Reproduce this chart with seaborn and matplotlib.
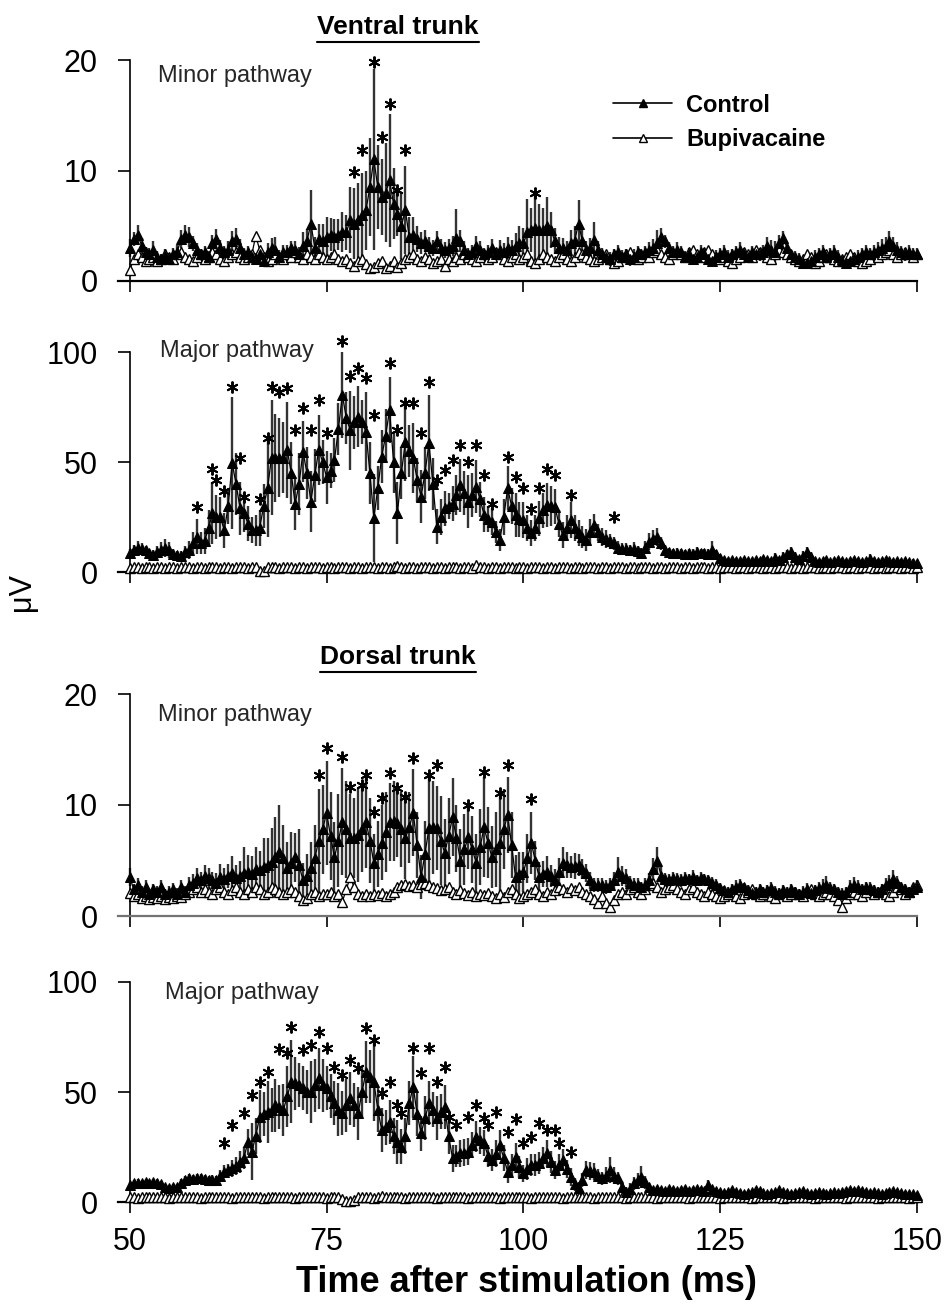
import matplotlib
matplotlib.use("Agg")
import matplotlib.pyplot as plt
from matplotlib.lines import Line2D
import numpy as np
import seaborn as sns

# sampling grid: one point every 0.5 ms from 50 to 150 ms
time = np.arange(50, 150.25, 0.5)

# ---- Ventral trunk, minor pathway (uV) ----
vmin_ctrl = [
    3.0, 3.8, 4.2, 3.2, 2.6, 2.4, 2.8, 2.2, 2.0, 2.3,   # 50
    2.0, 2.4, 2.6, 3.8, 4.2, 4.0, 3.4, 2.8, 2.4, 2.6,   # 55
    2.2, 3.4, 3.8, 3.0, 2.6, 2.8, 3.6, 3.8, 3.0, 2.4,   # 60
    2.6, 2.2, 2.0, 2.4, 1.8, 2.6, 3.0, 2.8, 2.2, 2.6,   # 65
    2.6, 3.0, 2.8, 2.4, 3.2, 3.6, 5.2, 3.0, 3.8, 3.6,   # 70
    4.0, 4.2, 4.0, 4.2, 4.4, 4.4, 5.5, 5.2, 5.5, 6.0,   # 75
    6.4, 8.5, 11.0, 8.5, 7.6, 8.0, 9.1, 7.0, 6.1, 5.0,  # 80
    6.4, 4.0, 4.2, 3.8, 3.4, 3.6, 3.2, 3.0, 3.6, 3.0,   # 85
    2.8, 3.0, 3.2, 3.9, 3.6, 2.8, 2.4, 2.6, 3.2, 2.8,   # 90
    2.4, 2.6, 3.0, 2.4, 2.8, 2.6, 3.0, 2.8, 3.2, 3.4,   # 95
    3.4, 4.4, 4.6, 4.8, 4.6, 4.6, 5.0, 4.6, 3.6, 3.0,   # 100
    3.0, 2.8, 3.4, 3.6, 5.2, 3.6, 2.8, 3.0, 3.7, 2.8,   # 105
    2.4, 2.2, 2.0, 2.4, 2.6, 2.2, 2.4, 2.0, 2.2, 2.6,   # 110
    2.4, 2.6, 2.8, 3.0, 3.4, 4.0, 3.6, 3.0, 2.6, 2.8,   # 115
    2.6, 2.2, 2.4, 2.0, 2.2, 2.6, 2.4, 2.0, 1.8, 2.2,   # 120
    2.4, 2.6, 2.2, 2.4, 2.6, 2.8, 2.4, 2.2, 2.6, 2.4,   # 125
    2.4, 2.6, 3.2, 2.8, 2.6, 3.4, 3.9, 3.0, 2.4, 2.2,   # 130
    2.0, 1.6, 1.6, 1.8, 2.2, 2.4, 2.6, 2.2, 2.4, 2.6,   # 135
    2.2, 1.8, 1.6, 1.8, 2.0, 2.2, 2.4, 2.6, 2.4, 2.6,   # 140
    2.8, 3.0, 3.2, 3.6, 3.2, 2.8, 2.6, 2.4, 2.6, 2.4,   # 145
    2.4,
]
vmin_err = [
    0.8, 0.6, 0.9, 0.7, 0.5, 0.6, 0.8, 0.5, 0.4, 0.6,
    0.5, 0.6, 0.7, 0.8, 0.9, 0.9, 0.7, 0.6, 0.5, 0.6,
    0.5, 0.8, 0.9, 0.7, 0.6, 0.8, 0.9, 1.0, 0.8, 0.6,
    0.6, 0.5, 0.5, 0.6, 0.5, 0.8, 0.9, 1.2, 0.6, 0.7,
    0.7, 0.6, 0.8, 0.7, 1.2, 1.1, 3.0, 1.0, 1.4, 1.6,
    1.8, 1.5, 1.6, 1.4, 1.8, 1.6, 3.0, 3.2, 3.4, 3.8,
    3.6, 4.4, 8.2, 3.8, 3.4, 4.5, 6.0, 3.2, 2.0, 3.0,
    4.0, 1.8, 1.6, 1.2, 1.0, 1.0, 0.8, 0.7, 0.9, 0.8,
    0.7, 0.8, 0.9, 2.6, 1.0, 0.8, 0.6, 0.7, 0.9, 0.8,
    0.6, 0.7, 0.8, 0.6, 0.9, 0.8, 1.0, 0.9, 1.1, 1.6,
    1.4, 3.0, 2.0, 3.2, 2.4, 2.0, 2.6, 1.6, 1.2, 1.0,
    0.9, 0.8, 1.2, 1.4, 2.1, 1.2, 0.8, 0.9, 1.6, 0.8,
    0.6, 0.5, 0.6, 0.5, 0.7, 0.6, 0.5, 0.6, 0.7, 0.6,
    0.5, 0.6, 0.7, 0.8, 1.2, 0.8, 0.6, 0.5, 0.6, 0.7,
    0.6, 0.5, 0.6, 0.5, 0.6, 0.7, 0.6, 0.5, 0.5, 0.6,
    0.6, 0.7, 0.6, 0.5, 0.6, 0.7, 0.6, 0.5, 0.6, 0.5,
    0.6, 0.7, 0.8, 0.9, 1.0, 0.8, 0.6, 0.5, 0.4, 0.5,
    0.5, 0.4, 0.5, 0.5, 0.6, 0.6, 0.7, 0.6, 0.6, 0.7,
    0.6, 0.5, 0.4, 0.5, 0.5, 0.6, 0.6, 0.7, 0.6, 0.7,
    0.7, 0.8, 0.8, 0.9, 0.8, 0.7, 0.6, 0.6, 0.7, 0.6,
    0.6,
]
vmin_bup = [
    1.0, 2.0, 2.4, 2.2, 1.8, 2.0, 2.2, 1.8, 2.0, 2.4,
    2.2, 2.0, 2.4, 2.6, 2.2, 2.0, 1.8, 2.2, 2.4, 2.0,
    2.2, 2.6, 2.4, 2.0, 1.8, 2.2, 2.4, 2.6, 2.2, 2.0,
    2.2, 2.4, 4.1, 2.8, 2.2, 1.8, 2.0, 2.4, 2.2, 2.0,
    2.4, 2.2, 2.6, 2.2, 2.0, 2.4, 2.2, 2.0, 2.4, 2.2,
    2.0, 2.2, 2.4, 2.0, 1.8, 2.0, 1.6, 1.4, 1.8, 2.0,
    1.5, 1.2, 1.3, 1.6, 1.8, 1.2, 1.4, 1.8, 1.3, 1.6,
    2.0, 2.2, 2.4, 2.0, 1.8, 2.2, 2.0, 1.6, 1.8, 2.0,
    1.4, 2.0, 1.8, 2.2, 2.0, 2.4, 2.2, 2.0, 1.8, 2.2,
    2.4, 2.0, 2.2, 2.6, 2.4, 2.0, 1.8, 2.2, 2.4, 2.0,
    2.2, 2.4, 1.8, 1.6, 2.0, 2.4, 2.2, 2.0, 1.8, 2.2,
    2.4, 2.0, 1.8, 2.2, 2.6, 2.4, 2.2, 2.0, 1.8, 2.0,
    2.2, 2.4, 2.0, 1.6, 1.8, 2.2, 2.4, 2.6, 2.2, 2.0,
    2.2, 2.4, 2.2, 2.6, 2.8, 2.4, 2.2, 2.0, 2.4, 2.6,
    2.4, 2.2, 2.6, 2.8, 2.4, 2.2, 2.6, 2.8, 2.4, 2.2,
    2.0, 2.2, 1.8, 1.6, 2.0, 2.2, 2.6, 2.4, 2.2, 2.8,
    2.6, 2.4, 2.2, 2.0, 2.4, 2.8, 2.6, 2.4, 2.2, 2.0,
    1.8, 2.0, 2.4, 2.2, 1.6, 1.8, 2.2, 2.4, 2.2, 2.0,
    1.8, 2.0, 2.2, 2.4, 2.2, 1.8, 1.6, 1.8, 2.0, 2.4,
    2.2, 2.4, 2.6, 2.8, 2.4, 2.2, 2.4, 2.6, 2.4, 2.2,
    2.4,
]
vmin_star_x = [78.5, 79.5, 81.0, 82.0, 83.0, 84.0, 85.0, 101.5]
vmin_star_y = [9.9, 11.9, 19.8, 13.0, 16.0, 8.2, 11.9, 8.0]

# ---- Ventral trunk, major pathway (uV) ----
vmaj_ctrl = [
    8.6, 10.0, 11.0, 10.5, 10.0, 8.5, 7.7, 9.0, 10.0, 11.0,
    10.0, 8.0, 7.7, 7.5, 9.0, 10.0, 13.0, 16.0, 13.0, 14.0,
    20.0, 26.7, 25.0, 25.0, 19.0, 30.0, 49.5, 40.0, 29.0, 27.0,
    22.0, 19.0, 19.0, 20.0, 30.0, 38.0, 52.0, 52.0, 52.0, 52.0,
    55.5, 45.0, 31.0, 40.0, 54.7, 45.0, 32.0, 44.0, 55.5, 50.0,
    43.0, 46.0, 51.0, 65.0, 80.5, 70.0, 64.5, 68.0, 70.6, 68.0,
    63.8, 45.0, 24.5, 38.0, 52.4, 62.0, 73.6, 50.0, 26.7, 45.0,
    59.2, 55.0, 51.8, 42.0, 34.2, 45.0, 58.6, 40.0, 20.6, 25.0,
    29.0, 30.0, 31.0, 35.0, 39.5, 36.0, 32.0, 35.0, 38.8, 33.0,
    26.0, 24.0, 22.9, 18.0, 14.5, 25.0, 38.0, 30.0, 26.0, 24.0,
    23.6, 20.0, 17.7, 20.0, 24.5, 28.0, 30.5, 30.0, 29.7, 22.0,
    16.8, 20.0, 23.6, 20.0, 17.7, 16.0, 14.5, 18.0, 21.4, 18.0,
    16.0, 15.0, 14.0, 13.0, 11.0, 10.5, 10.5, 10.0, 10.5, 9.5,
    8.6, 11.0, 13.8, 15.0, 16.0, 13.0, 10.0, 9.0, 8.6, 8.8,
    8.6, 8.2, 8.6, 8.4, 9.0, 8.6, 8.6, 8.4, 10.0, 8.0,
    6.5, 5.5, 5.0, 5.5, 5.0, 4.8, 5.5, 5.0, 4.8, 5.5,
    5.0, 6.0, 5.5, 5.0, 6.5, 5.5, 7.0, 8.0, 9.0, 7.0,
    6.0, 7.5, 9.0, 7.0, 5.0, 4.5, 5.0, 5.5, 4.5, 5.0,
    5.5, 5.0, 4.5, 5.0, 5.5, 5.0, 4.5, 5.0, 6.0, 5.0,
    4.5, 5.0, 5.5, 5.0, 4.5, 5.0, 4.5, 4.8, 4.5, 4.2,
    4.0,
]
vmaj_err = [
    2.0, 2.5, 3.0, 2.5, 2.0, 2.0, 2.5, 3.0, 3.5, 4.0,
    3.5, 2.5, 2.0, 2.0, 3.0, 4.0, 5.0, 8.0, 5.0, 6.0,
    8.0, 14.0, 10.0, 9.0, 8.0, 8.0, 30.0, 14.0, 12.0, 9.0,
    8.0, 6.0, 7.0, 8.0, 10.0, 22.0, 26.0, 20.0, 18.0, 16.0,
    22.0, 14.0, 12.0, 14.0, 14.0, 12.0, 14.0, 12.0, 16.0, 10.0,
    12.0, 8.0, 10.0, 12.0, 19.5, 12.0, 18.0, 12.0, 14.0, 10.0,
    18.0, 14.0, 20.0, 10.0, 12.0, 12.0, 15.0, 14.0, 14.0, 12.0,
    18.0, 12.0, 16.0, 10.0, 12.0, 12.0, 22.0, 12.0, 8.0, 8.0,
    8.0, 6.0, 8.0, 9.0, 12.0, 10.0, 12.0, 10.0, 12.0, 8.0,
    8.0, 6.0, 6.0, 5.0, 5.0, 8.0, 10.0, 8.0, 10.0, 8.0,
    8.0, 6.0, 6.0, 6.0, 8.0, 8.0, 10.0, 9.0, 8.0, 6.0,
    6.0, 6.0, 8.0, 6.0, 6.0, 5.0, 5.0, 6.0, 5.0, 4.0,
    4.0, 4.0, 3.5, 3.0, 3.0, 2.5, 2.5, 2.5, 3.0, 2.5,
    2.5, 3.0, 4.0, 4.0, 4.0, 3.0, 2.5, 2.0, 2.0, 2.0,
    2.0, 2.0, 2.0, 2.0, 2.5, 2.0, 2.0, 2.0, 4.0, 2.0,
    1.5, 1.5, 1.5, 1.5, 1.5, 1.5, 1.5, 1.5, 1.5, 1.5,
    1.5, 1.5, 1.5, 1.5, 2.0, 1.5, 2.0, 2.0, 2.5, 2.0,
    1.5, 2.0, 2.5, 2.0, 1.5, 1.5, 1.5, 1.5, 1.5, 1.5,
    1.5, 1.5, 1.5, 1.5, 1.5, 1.5, 1.5, 1.5, 2.0, 1.5,
    1.5, 1.5, 1.5, 1.5, 1.5, 1.5, 1.5, 1.5, 1.5, 1.5,
    1.5,
]
vmaj_bup = [
    2.0, 2.5, 2.2, 2.0, 2.4, 2.2, 2.0, 2.5, 2.2, 2.0,
    2.4, 2.2, 2.0, 2.3, 2.5, 2.2, 2.0, 2.4, 2.2, 2.0,
    2.3, 2.5, 2.2, 2.0, 2.4, 2.2, 2.0, 2.3, 2.5, 2.2,
    2.0, 2.4, 2.2, 0.5, 0.5, 2.2, 2.4, 2.2, 2.0, 2.3,
    2.5, 2.2, 2.0, 2.4, 2.2, 2.0, 2.3, 2.5, 2.2, 2.0,
    2.4, 2.2, 2.0, 2.3, 2.5, 2.2, 2.0, 2.4, 2.2, 2.0,
    2.3, 2.5, 2.2, 2.0, 2.4, 2.2, 2.0, 2.3, 2.8, 2.2,
    2.0, 2.4, 2.2, 2.0, 2.3, 2.5, 2.2, 2.0, 2.4, 2.2,
    2.0, 2.3, 2.5, 2.2, 2.0, 2.4, 2.2, 2.0, 3.2, 2.5,
    2.2, 2.0, 2.4, 2.2, 2.0, 2.3, 2.5, 2.2, 2.0, 2.4,
    2.2, 2.0, 2.3, 2.5, 2.2, 2.0, 2.4, 2.2, 2.0, 2.3,
    2.5, 2.2, 2.0, 2.4, 2.2, 2.0, 2.3, 2.5, 2.2, 2.0,
    2.4, 2.2, 2.0, 2.3, 2.5, 2.2, 2.0, 2.4, 2.2, 2.0,
    2.3, 2.5, 2.2, 2.0, 2.4, 2.2, 2.0, 2.3, 2.5, 2.2,
    2.0, 2.4, 2.2, 2.0, 2.3, 2.5, 2.2, 2.0, 2.4, 2.2,
    2.0, 2.3, 2.5, 2.2, 2.0, 2.4, 2.2, 2.0, 2.3, 2.5,
    2.2, 2.0, 2.4, 2.2, 2.0, 2.3, 2.5, 2.2, 2.0, 2.4,
    2.2, 2.0, 2.3, 2.5, 2.2, 2.0, 2.4, 2.2, 2.0, 2.3,
    2.5, 2.2, 2.0, 2.4, 2.2, 2.0, 2.3, 2.5, 2.2, 2.0,
    2.4, 2.2, 2.0, 2.3, 2.5, 2.2, 2.0, 2.4, 2.2, 2.0,
    2.3,
]
vmaj_star_x = [58.5, 60.5, 61.0, 62.0, 63.0, 64.0, 64.5, 66.5, 67.5, 68.0, 69.0, 70.0,
               71.0, 72.0, 73.0, 74.0, 75.0, 77.0, 78.0, 79.0, 80.0, 81.0, 83.0, 84.0,
               85.0, 86.0, 87.0, 88.0, 89.0, 90.0, 91.0, 92.0, 93.0, 94.0, 95.0, 96.0,
               98.0, 99.0, 100.0, 101.0, 102.0, 103.0, 104.0, 106.0, 111.5]
vmaj_star_y = [29.7, 47.0, 42.0, 37.0, 84.0, 52.0, 34.0, 33.0, 61.0, 84.0, 82.0, 83.5,
               64.5, 74.5, 64.5, 78.0, 63.0, 105.0, 89.0, 92.7, 88.0, 71.4, 95.0, 64.5,
               76.7, 76.7, 63.0, 86.5, 41.8, 46.4, 51.0, 57.7, 50.0, 57.7, 44.0, 31.0,
               52.4, 43.0, 38.0, 28.5, 38.0, 47.0, 44.0, 35.0, 25.0]

# ---- Dorsal trunk, minor pathway (uV) ----
dmin_ctrl = [
    3.5, 2.4, 2.8, 2.2, 2.6, 2.0, 2.4, 2.2, 2.6, 2.0,
    2.2, 2.4, 2.0, 2.6, 2.2, 2.8, 3.0, 3.4, 3.2, 3.6,
    3.4, 3.2, 3.0, 3.5, 3.3, 3.6, 3.9, 3.4, 3.6, 3.9,
    4.0, 3.8, 4.2, 4.1, 4.4, 4.6, 4.9, 5.3, 5.8, 5.2,
    4.3, 4.8, 5.3, 4.6, 3.2, 3.6, 4.3, 5.2, 6.8, 7.8,
    9.3, 7.2, 5.3, 6.8, 8.5, 7.8, 7.0, 7.0, 7.3, 7.8,
    8.5, 6.8, 4.8, 5.6, 6.6, 7.6, 8.5, 8.6, 8.4, 7.8,
    7.0, 8.0, 9.3, 6.4, 3.5, 5.6, 7.9, 8.0, 7.9, 6.8,
    5.7, 7.2, 8.9, 7.0, 5.0, 6.0, 7.1, 6.0, 4.8, 6.2,
    8.0, 6.6, 5.3, 6.0, 6.6, 7.8, 9.1, 6.4, 3.5, 3.8,
    4.0, 5.2, 6.6, 5.0, 3.5, 3.8, 4.0, 3.6, 3.2, 4.0,
    4.8, 4.6, 4.4, 4.5, 4.6, 4.2, 3.9, 3.2, 2.8, 2.8,
    2.8, 2.6, 2.8, 3.2, 4.0, 3.6, 3.4, 3.0, 2.8, 2.8,
    2.6, 2.8, 3.2, 4.2, 5.0, 3.6, 3.3, 3.2, 3.4, 3.3,
    3.2, 3.4, 3.3, 3.5, 3.2, 3.4, 3.3, 3.2, 3.0, 2.8,
    2.5, 2.3, 2.2, 2.4, 2.6, 2.8, 2.6, 2.3, 2.1, 2.2,
    2.4, 2.2, 2.3, 2.5, 2.2, 2.1, 2.3, 2.2, 2.4, 2.2,
    2.0, 2.2, 2.4, 2.1, 2.3, 2.5, 2.6, 2.8, 2.5, 2.4,
    2.2, 2.0, 2.2, 2.6, 2.8, 2.6, 2.4, 2.6, 2.5, 2.3,
    2.2, 2.4, 2.8, 3.0, 3.3, 3.0, 2.6, 2.4, 2.2, 2.4,
    2.6,
]
dmin_err = [
    0.8, 0.5, 0.6, 0.5, 0.6, 0.4, 0.5, 0.5, 0.6, 0.4,
    0.5, 0.6, 0.5, 0.6, 0.5, 0.7, 0.8, 0.9, 0.8, 1.0,
    0.9, 0.8, 0.9, 1.2, 1.0, 1.1, 1.5, 1.2, 1.4, 2.3,
    1.5, 1.6, 2.0, 1.8, 2.6, 2.4, 3.0, 3.6, 4.2, 3.0,
    2.4, 2.8, 2.2, 3.2, 1.6, 2.0, 2.4, 3.0, 4.6, 4.0,
    4.7, 4.0, 3.2, 4.2, 4.8, 4.4, 4.0, 3.6, 4.2, 3.8,
    4.2, 3.8, 2.6, 3.0, 3.4, 3.6, 3.5, 3.6, 3.1, 3.4,
    3.7, 3.2, 3.9, 3.0, 2.0, 3.0, 4.8, 4.2, 3.8, 4.0,
    3.0, 3.4, 3.5, 3.0, 2.8, 3.2, 2.9, 3.0, 2.6, 3.4,
    4.5, 3.2, 2.8, 3.4, 4.5, 3.6, 3.4, 3.0, 2.0, 2.0,
    1.8, 2.2, 2.8, 1.8, 1.4, 1.2, 1.4, 1.0, 1.0, 1.2,
    1.4, 1.2, 1.0, 1.2, 1.0, 0.9, 0.8, 0.8, 0.6, 0.6,
    0.6, 0.6, 0.6, 0.8, 1.3, 0.9, 0.8, 0.6, 0.6, 0.6,
    0.5, 0.6, 0.7, 1.0, 1.2, 0.8, 0.6, 0.6, 0.6, 0.6,
    0.6, 0.6, 0.5, 0.6, 0.5, 0.6, 0.5, 0.5, 0.5, 0.5,
    0.5, 0.4, 0.4, 0.5, 0.6, 0.5, 0.4, 0.5, 0.4, 0.4,
    0.5, 0.4, 0.5, 0.6, 0.5, 0.4, 0.5, 0.4, 0.5, 0.4,
    0.4, 0.5, 0.6, 0.4, 0.5, 0.6, 0.7, 0.8, 0.6, 0.5,
    0.4, 0.5, 0.4, 0.6, 0.7, 0.6, 0.5, 0.5, 0.6, 0.5,
    0.4, 0.5, 0.6, 0.7, 0.8, 0.6, 0.5, 0.5, 0.4, 0.5,
    0.6,
]
dmin_bup = [
    2.1, 1.8, 2.0, 1.6, 1.8, 1.5, 1.7, 1.6, 1.8, 1.5,
    1.7, 1.6, 1.8, 1.7, 2.0, 2.2, 2.4, 2.6, 2.2, 2.4,
    2.2, 2.0, 2.4, 2.6, 2.2, 2.0, 2.3, 2.6, 2.2, 2.0,
    2.4, 2.2, 2.6, 2.4, 2.0, 2.2, 2.6, 2.4, 2.2, 2.0,
    2.2, 2.4, 2.2, 1.8, 1.4, 1.6, 2.0, 2.2, 1.8, 2.0,
    2.0, 2.2, 1.8, 2.0, 1.3, 2.4, 3.5, 2.6, 2.0, 1.8,
    2.0, 1.8, 2.0, 1.9, 2.1, 1.8, 2.0, 2.2, 2.6, 2.8,
    2.9, 2.7, 2.8, 2.6, 2.9, 3.0, 2.8, 2.6, 2.5, 2.3,
    2.4, 2.6, 2.2, 2.0, 2.3, 2.1, 1.9, 2.2, 1.8, 2.0,
    1.9, 2.1, 1.8, 1.6, 2.0, 1.7, 2.2, 2.4, 2.0, 1.6,
    1.8, 2.0, 2.2, 2.4, 2.0, 1.8, 2.2, 2.0, 2.3, 2.6,
    2.4, 2.2, 2.5, 2.3, 2.6, 2.2, 2.0, 1.8, 1.5, 1.2,
    1.8, 1.2, 0.8, 1.4, 2.0, 2.2, 2.0, 2.4, 2.6, 2.2,
    2.0, 2.4, 2.8, 3.0, 2.6, 2.2, 2.4, 2.6, 2.8, 2.4,
    2.2, 2.0, 2.4, 2.6, 2.2, 2.0, 1.8, 2.2, 2.0, 1.8,
    1.6, 1.8, 2.0, 2.2, 1.8, 1.6, 2.0, 2.2, 2.4, 2.0,
    1.8, 2.0, 2.2, 1.8, 1.6, 2.0, 2.2, 1.8, 2.0, 2.2,
    2.0, 1.8, 2.2, 2.4, 2.0, 1.8, 2.0, 2.2, 2.0, 1.8,
    1.4, 0.8, 1.6, 2.0, 2.2, 2.0, 1.8, 2.2, 2.4, 2.0,
    2.2, 2.4, 2.0, 1.8, 2.2, 2.6, 2.4, 2.0, 2.2, 2.6,
    2.8,
]
dmin_star_x = [74.0, 75.0, 77.0, 78.0, 79.5, 80.0, 81.0, 82.0, 83.0, 84.0,
               85.0, 86.0, 88.0, 89.0, 93.0, 95.0, 97.0, 98.0, 101.0]
dmin_star_y = [12.7, 15.1, 14.3, 11.6, 11.8, 12.7, 9.4, 10.6, 12.9, 11.5,
               10.7, 14.2, 12.7, 13.6, 10.0, 13.0, 11.1, 13.6, 10.5]

# ---- Dorsal trunk, major pathway (uV) ----
dmaj_ctrl = [
    7.7, 8.5, 8.8, 8.6, 9.0, 8.5, 9.0, 8.8, 8.0, 6.8,
    6.4, 6.6, 6.8, 8.5, 10.0, 10.9, 10.5, 10.9, 10.9, 10.5,
    10.0, 10.2, 10.0, 12.0, 13.8, 14.5, 15.3, 16.5, 18.3, 20.0,
    27.4, 22.9, 30.0, 38.8, 40.0, 41.0, 42.0, 44.0, 43.0, 41.8,
    48.0, 54.7, 54.0, 53.2, 52.0, 50.0, 50.0, 53.0, 56.2, 53.0,
    51.7, 48.0, 44.9, 42.0, 40.3, 44.0, 47.1, 44.0, 40.3, 50.0,
    59.2, 57.0, 54.7, 42.0, 32.7, 34.0, 36.5, 30.0, 27.4, 25.2,
    30.0, 45.0, 52.4, 40.0, 31.2, 38.0, 44.9, 42.0, 38.0, 41.0,
    43.3, 30.0, 19.8, 21.0, 22.1, 22.5, 22.9, 26.0, 29.7, 28.0,
    26.7, 21.0, 19.1, 22.0, 25.9, 20.0, 13.8, 17.0, 20.6, 16.0,
    13.0, 15.0, 16.8, 17.0, 17.6, 20.0, 22.1, 18.0, 14.5, 17.0,
    19.1, 15.0, 11.5, 8.0, 6.2, 10.0, 14.5, 14.0, 13.8, 12.0,
    10.8, 12.0, 14.5, 12.0, 10.8, 7.0, 4.7, 6.0, 8.5, 10.0,
    11.5, 9.0, 6.8, 5.5, 6.0, 5.5, 5.0, 6.0, 5.5, 5.0,
    5.5, 6.0, 5.0, 5.5, 6.0, 5.5, 5.0, 7.7, 6.0, 5.0,
    4.5, 4.0, 4.5, 5.5, 4.5, 4.0, 3.5, 4.0, 4.5, 5.5,
    5.0, 4.0, 3.5, 4.0, 4.5, 5.5, 4.5, 4.0, 3.5, 4.0,
    4.5, 5.0, 4.0, 3.5, 4.0, 4.5, 4.0, 3.5, 4.0, 4.5,
    4.0, 4.5, 5.0, 5.5, 5.0, 5.5, 5.0, 4.5, 4.0, 4.5,
    4.0, 3.5, 4.0, 4.5, 5.0, 4.5, 4.0, 3.5, 3.8, 3.5,
    3.2,
]
dmaj_err = [
    1.5, 1.5, 1.5, 1.5, 1.5, 1.5, 1.5, 1.5, 1.5, 1.5,
    1.5, 1.5, 1.5, 2.0, 2.0, 2.0, 2.0, 2.0, 2.0, 2.0,
    2.0, 2.0, 2.0, 2.5, 3.0, 3.0, 4.0, 4.0, 5.0, 5.0,
    6.0, 13.0, 8.0, 12.0, 10.0, 14.0, 10.0, 12.0, 10.0, 12.0,
    14.0, 19.0, 12.0, 10.0, 10.0, 10.0, 14.0, 12.0, 14.0, 12.0,
    10.0, 10.0, 10.0, 12.0, 10.0, 12.0, 12.0, 10.0, 12.0, 12.0,
    14.0, 12.0, 18.0, 10.0, 10.0, 8.0, 10.0, 8.0, 10.0, 8.0,
    8.0, 10.0, 14.0, 10.0, 8.0, 10.0, 10.0, 8.0, 10.0, 8.0,
    10.0, 8.0, 6.0, 5.0, 6.0, 6.0, 6.0, 6.0, 7.0, 6.0,
    6.0, 5.0, 5.0, 6.0, 7.0, 6.0, 5.0, 5.0, 6.0, 5.0,
    4.0, 5.0, 5.0, 5.0, 5.0, 5.0, 6.0, 5.0, 4.0, 5.0,
    5.0, 4.0, 4.0, 3.0, 3.0, 3.0, 4.0, 4.0, 4.0, 3.0,
    3.0, 4.0, 6.0, 4.0, 3.0, 2.5, 2.0, 2.5, 3.0, 3.0,
    5.0, 3.0, 2.0, 1.5, 1.5, 1.5, 1.5, 1.5, 1.5, 1.5,
    1.2, 1.5, 1.2, 1.2, 1.5, 1.2, 1.2, 2.5, 1.5, 1.2,
    1.0, 1.0, 1.0, 1.2, 1.0, 1.0, 1.0, 1.0, 1.0, 1.2,
    1.2, 1.0, 1.0, 1.0, 1.0, 1.2, 1.0, 1.0, 1.0, 1.0,
    1.0, 1.2, 1.0, 1.0, 1.0, 1.0, 1.0, 1.0, 1.0, 1.0,
    1.0, 1.0, 1.2, 1.2, 1.2, 1.2, 1.2, 1.0, 1.0, 1.0,
    1.0, 1.0, 1.0, 1.0, 1.2, 1.0, 1.0, 1.0, 1.0, 1.0,
    1.0,
]
dmaj_bup = [
    2.2, 2.5, 2.0, 2.4, 2.2, 2.5, 2.1, 2.3, 2.5, 2.2,
    2.0, 2.4, 2.2, 2.5, 2.1, 2.3, 2.5, 2.2, 2.0, 2.4,
    2.2, 2.5, 2.1, 2.3, 2.5, 2.2, 2.0, 2.4, 2.2, 2.5,
    2.1, 2.3, 2.5, 2.2, 2.0, 2.4, 2.2, 2.5, 2.1, 2.3,
    2.5, 2.2, 2.0, 2.4, 2.2, 2.5, 2.1, 2.3, 2.5, 2.2,
    2.0, 2.4, 2.2, 2.5, 1.5, 0.4, 0.3, 0.8, 2.1, 2.3,
    2.5, 2.2, 2.0, 2.4, 2.6, 2.5, 2.1, 2.3, 2.5, 2.2,
    2.0, 2.4, 2.2, 2.5, 2.1, 2.3, 2.5, 2.2, 2.0, 2.4,
    2.2, 2.5, 2.1, 2.3, 2.5, 2.2, 2.0, 2.4, 2.2, 2.5,
    2.1, 2.3, 2.5, 2.2, 2.0, 2.4, 2.2, 2.5, 2.1, 2.3,
    2.5, 2.2, 2.0, 2.4, 2.2, 2.5, 2.1, 2.3, 2.5, 2.2,
    2.0, 2.4, 2.2, 2.5, 2.1, 2.3, 2.5, 2.2, 2.0, 2.4,
    2.2, 2.5, 2.1, 2.3, 2.5, 2.2, 2.0, 2.4, 2.2, 2.5,
    2.1, 2.3, 2.5, 2.2, 2.0, 2.4, 2.2, 2.5, 2.1, 2.3,
    2.5, 2.2, 2.0, 2.4, 2.2, 2.5, 2.1, 2.3, 2.5, 2.2,
    2.0, 2.4, 2.2, 2.5, 2.1, 2.3, 2.5, 2.2, 2.0, 2.4,
    2.2, 2.5, 2.1, 2.3, 2.5, 2.2, 2.0, 2.4, 2.2, 2.5,
    2.1, 2.3, 2.5, 2.2, 2.0, 2.4, 2.2, 2.5, 2.1, 2.3,
    2.5, 2.2, 2.0, 2.4, 2.2, 2.5, 2.1, 2.3, 2.5, 2.2,
    2.0, 2.4, 2.2, 2.5, 2.1, 2.3, 2.5, 2.2, 2.0, 2.4,
    2.2,
]
dmaj_star_x = [62.0, 63.0, 64.5, 65.5, 66.5, 67.5, 69.0, 70.0, 70.5, 72.0, 73.0, 74.0,
               75.0, 76.0, 77.0, 78.0, 79.0, 80.0, 81.0, 82.0, 83.0, 84.0, 84.5, 86.0,
               87.0, 88.0, 89.0, 90.0, 90.5, 91.5, 93.0, 94.0, 95.0, 95.5, 96.5, 98.0,
               99.0, 100.0, 101.0, 102.0, 103.0, 104.0, 104.5, 106.0]
dmaj_star_y = [27.0, 35.0, 40.5, 48.6, 54.7, 59.2, 69.4, 67.7, 79.7, 69.0, 71.4, 77.4,
               69.9, 61.5, 57.7, 64.5, 60.8, 79.0, 73.6, 49.4, 54.7, 44.0, 40.3, 69.9,
               58.5, 69.9, 54.7, 61.5, 38.8, 35.0, 38.8, 44.0, 38.0, 35.0, 41.0, 32.0,
               37.6, 27.0, 29.7, 35.8, 32.7, 32.7, 27.0, 22.9]

panel_labels = ["Minor pathway", "Major pathway", "Minor pathway", "Major pathway"]
trunk_titles = ["Ventral trunk", "Dorsal trunk"]

for arr in [vmin_ctrl, vmin_err, vmin_bup, vmaj_ctrl, vmaj_err, vmaj_bup,
            dmin_ctrl, dmin_err, dmin_bup, dmaj_ctrl, dmaj_err, dmaj_bup]:
    assert len(arr) == len(time), len(arr)

sns.set_style("ticks")
plt.rcParams["font.family"] = ["Liberation Sans", "DejaVu Sans"]
plt.rcParams["text.color"] = "black"
plt.rcParams["xtick.color"] = "black"
plt.rcParams["ytick.color"] = "black"
plt.rcParams["axes.edgecolor"] = "black"

W, H = 953, 1316
fig = plt.figure(figsize=(W / 100, H / 100), dpi=100)


def px_axes(top, bottom):
    # axes rectangle from pixel rows of the y-axis top and the zero line
    left, right = 118, 917
    return [left / W, 1 - bottom / H, (right - left) / W, (bottom - top) / H]


def draw_panel(ax, ctrl, err, bup, star_x, star_y, ymax, show_xlabels, spine_color="black"):
    eb = ax.errorbar(time, ctrl, yerr=err, fmt="none", ecolor="0.2",
                     elinewidth=1.7, capsize=0, zorder=2)
    for coll in eb.lines[2]:
        coll.set_clip_on(False)
    sns.lineplot(x=time, y=bup, ax=ax, color="black", linewidth=0.9, marker="^",
                 markersize=6.8, markerfacecolor="white", markeredgecolor="black",
                 markeredgewidth=1.0, zorder=3, clip_on=False)
    sns.lineplot(x=time, y=ctrl, ax=ax, color="black", linewidth=0.9, marker="^",
                 markersize=6.8, markerfacecolor="black", markeredgecolor="black",
                 zorder=4, clip_on=False)
    ax.plot(star_x, star_y, linestyle="none", marker=(6, 2, 0), markersize=8.5,
            markeredgewidth=1.4, color="black", clip_on=False, zorder=5)

    ax.set_xlim(48.5, 150)
    ax.set_ylim(0, ymax)
    ax.set_yticks([0, ymax / 2, ymax])
    ax.set_yticklabels([f"{v:g}" for v in [0, ymax / 2, ymax]])
    ax.set_xticks([50, 75, 100, 125, 150])
    if show_xlabels:
        ax.set_xticklabels(["50", "75", "100", "125", "150"])
    else:
        ax.set_xticklabels([])
    sns.despine(ax=ax)
    ax.spines["left"].set_position(("data", 50))
    ax.spines["left"].set_linewidth(1.2)
    ax.spines["bottom"].set_linewidth(1.6)
    ax.spines["bottom"].set_color(spine_color)
    ax.tick_params(axis="y", length=9, width=1.2, pad=14, labelsize=22)
    ax.tick_params(axis="x", length=8, width=1.2, pad=10, labelsize=22)
    ax.set_xlabel("")
    ax.set_ylabel("")
    ax.patch.set_alpha(0)


ax1 = fig.add_axes(px_axes(60, 281))
draw_panel(ax1, vmin_ctrl, vmin_err, vmin_bup, vmin_star_x, vmin_star_y, 20, False)
ax2 = fig.add_axes(px_axes(352, 572))
draw_panel(ax2, vmaj_ctrl, vmaj_err, vmaj_bup, vmaj_star_x, vmaj_star_y, 100, False)
ax3 = fig.add_axes(px_axes(694, 916))
draw_panel(ax3, dmin_ctrl, dmin_err, dmin_bup, dmin_star_x, dmin_star_y, 20, False, "0.45")
ax4 = fig.add_axes(px_axes(982, 1202))
draw_panel(ax4, dmaj_ctrl, dmaj_err, dmaj_bup, dmaj_star_x, dmaj_star_y, 100, True)

# panel labels
for (px, py), txt in zip([(158, 76), (160, 351), (158, 715), (165, 993)], panel_labels):
    fig.text(px / W, 1 - py / H, txt, ha="left", va="center", fontsize=17, color="0.15")

# trunk titles (bold, underlined)
titles = []
for py, txt in zip([27, 657], trunk_titles):
    titles.append(fig.text(398 / W, 1 - py / H, txt, ha="center", va="center",
                           fontsize=19, fontweight="bold"))

fig.text(22 / W, 1 - 592 / H, "μV", rotation=90, ha="center", va="center", fontsize=22)
fig.text(526 / W, 1 - 1282 / H, "Time after stimulation (ms)", ha="center", va="center",
         fontsize=26, fontweight="bold")

handles = [
    Line2D([], [], color="black", linewidth=1.2, marker="^", markersize=6,
           markerfacecolor="black", markeredgecolor="black"),
    Line2D([], [], color="black", linewidth=1.2, marker="^", markersize=6,
           markerfacecolor="white", markeredgecolor="black"),
]
fig.legend(handles, ["Control", "Bupivacaine"], loc="center left",
           bbox_to_anchor=(613 / W, 1 - 122.5 / H), frameon=False,
           prop={"weight": "bold", "size": 17}, handlelength=2.5,
           handletextpad=0.6, labelspacing=0.5, borderpad=0, borderaxespad=0)

# underline the titles
fig.canvas.draw()
inv = fig.transFigure.inverted()
for t in titles:
    bb = t.get_window_extent()
    (x0, y0), (x1, _) = inv.transform([(bb.x0, bb.y0 - 3), (bb.x1, bb.y0 - 3)])
    fig.add_artist(Line2D([x0, x1], [y0, y0], transform=fig.transFigure,
                          color="black", linewidth=1.5))

fig.savefig("out.png", dpi=100)
